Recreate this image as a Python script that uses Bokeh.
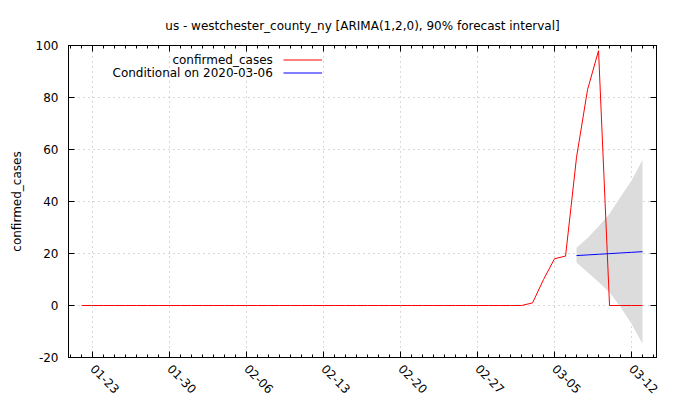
import pandas as pd
from bokeh.plotting import figure
from bokeh.models import (Range1d, FixedTicker, DatetimeTickFormatter, LinearAxis,
                          DatetimeAxis, Legend, LegendItem, ColumnDataSource, Grid, Label)
from bokeh.embed import file_html
from bokeh.resources import INLINE

# ---- data ----
obs_dates = pd.date_range("2020-01-22", "2020-03-13", freq="D")
obs_values = [0] * 41 + [1, 10, 18, 19, 57, 83, 98, 0, 0, 0, 0]

fc_dates = pd.date_range("2020-03-07", "2020-03-13", freq="D")
fc_mean = [19.2, 19.45, 19.7, 19.95, 20.2, 20.45, 20.7]
fc_upper = [22.2, 26.0, 30.4, 35.3, 41.7, 48.1, 56.0]
fc_lower = [16.5, 12.8, 9.0, 5.1, -0.6, -7.0, -14.7]

x_tick_labels = ["01-23", "01-30", "02-06", "02-13", "02-20", "02-27", "03-05", "03-12"]
y_ticks = [-20, 0, 20, 40, 60, 80, 100]

title_text = "us - westchester_county_ny [ARIMA(1,2,0), 90% forecast interval]"
series_label = "confirmed_cases"
fc_label = "Conditional on 2020-03-06"

# ---- derived ----
def ms(ts):
    return pd.Timestamp(ts).value / 1e6

major_ticks = [ms("2020-" + t) for t in x_tick_labels]
minor_ticks = [ms(d) for d in pd.date_range("2020-01-16", "2020-03-19", freq="D")]

FONT = "DejaVu Sans"
FS = "12px"

x_start = pd.Timestamp("2020-01-20 19:12")
x_end = pd.Timestamp("2020-03-14 06:30")

p = figure(width=680, height=400, output_backend="svg", toolbar_location=None,
           x_axis_type=None, y_axis_type=None,
           x_range=Range1d(x_start, x_end), y_range=Range1d(-20, 100),
           min_border_left=68, min_border_right=24, min_border_top=45, min_border_bottom=43)

p.background_fill_color = "white"
p.border_fill_color = "white"
p.outline_line_color = "black"
p.outline_line_width = 1

xticker = FixedTicker(ticks=major_ticks, minor_ticks=minor_ticks)
yticker = FixedTicker(ticks=y_ticks, minor_ticks=[])
fmt = DatetimeTickFormatter(days="%m-%d", months="%m-%d", hours="%m-%d", years="%m-%d",
                            minutes="%m-%d", seconds="%m-%d", milliseconds="%m-%d",
                            microseconds="%m-%d", hourmin="%m-%d", minsec="%m-%d")


def style_axis(ax, labels=True):
    ax.axis_line_color = "black"
    ax.major_tick_in = 6
    ax.major_tick_out = 0
    ax.minor_tick_in = 3
    ax.minor_tick_out = 0
    ax.major_tick_line_color = "black"
    ax.minor_tick_line_color = "black"
    ax.major_label_text_font = FONT
    ax.major_label_text_font_size = FS
    ax.major_label_text_color = "black"
    ax.axis_label_text_font = FONT
    ax.axis_label_text_font_size = FS
    ax.axis_label_text_font_style = "normal"
    ax.axis_label_text_color = "black"
    if not labels:
        ax.major_label_text_color = None
        ax.major_label_text_font_size = "1px"
        ax.major_label_standoff = 0


xb = DatetimeAxis(ticker=xticker, formatter=fmt)
style_axis(xb)
xb.major_label_orientation = -0.785398
xb.major_label_standoff = 9
p.add_layout(xb, "below")

xa = DatetimeAxis(ticker=xticker, formatter=fmt)
style_axis(xa, labels=False)
p.add_layout(xa, "above")

yl = LinearAxis(ticker=yticker, axis_label=series_label)
style_axis(yl)
yl.major_label_standoff = 10
yl.axis_label_standoff = 9
yl.major_label_overrides = {t: str(t) for t in y_ticks}
p.add_layout(yl, "left")

yr = LinearAxis(ticker=yticker)
style_axis(yr, labels=False)
p.add_layout(yr, "right")

gx = Grid(dimension=0, ticker=xticker, grid_line_color="#b0b0b0", grid_line_dash="1 4")
gy = Grid(dimension=1, ticker=yticker, grid_line_color="#b0b0b0", grid_line_dash="1 4")
p.add_layout(gx)
p.add_layout(gy)

fc_src = ColumnDataSource(dict(x=fc_dates, m=fc_mean, lo=fc_lower, hi=fc_upper))
p.varea(x="x", y1="lo", y2="hi", source=fc_src, fill_color="#dcdcdc", fill_alpha=1)

r_red = p.line(obs_dates, obs_values, line_color="#ff0000", line_width=1)
r_blue = p.line(x="x", y="m", source=fc_src, line_color="#0000ff", line_width=1)

# gnuplot-style key: text right-aligned, sample line to its right
legend = Legend(items=[LegendItem(label=" ", renderers=[r_red]),
                       LegendItem(label=" ", renderers=[r_blue])],
                location=(215, 278), orientation="vertical",
                glyph_width=39, glyph_height=13, label_height=13, label_width=1,
                label_standoff=0,
                padding=0, margin=0, spacing=0,
                border_line_color=None, background_fill_alpha=0,
                label_text_font=FONT, label_text_font_size=FS, label_text_color="black")
p.add_layout(legend)

key_x = ms("2020-02-08 09:00")
for txt, ky in [(series_label, 94.6), (fc_label, 89.6)]:
    p.add_layout(Label(x=key_x, y=ky, text=txt, text_align="right", text_baseline="middle",
                       text_font=FONT, text_font_size=FS, text_color="black"))

p.title.text = title_text
p.title.align = "center"
p.title.text_font = FONT
p.title.text_font_size = FS
p.title.text_font_style = "normal"
p.title.text_color = "black"
p.title.standoff = 25

open("out.html", "w").write(file_html(p, INLINE))
